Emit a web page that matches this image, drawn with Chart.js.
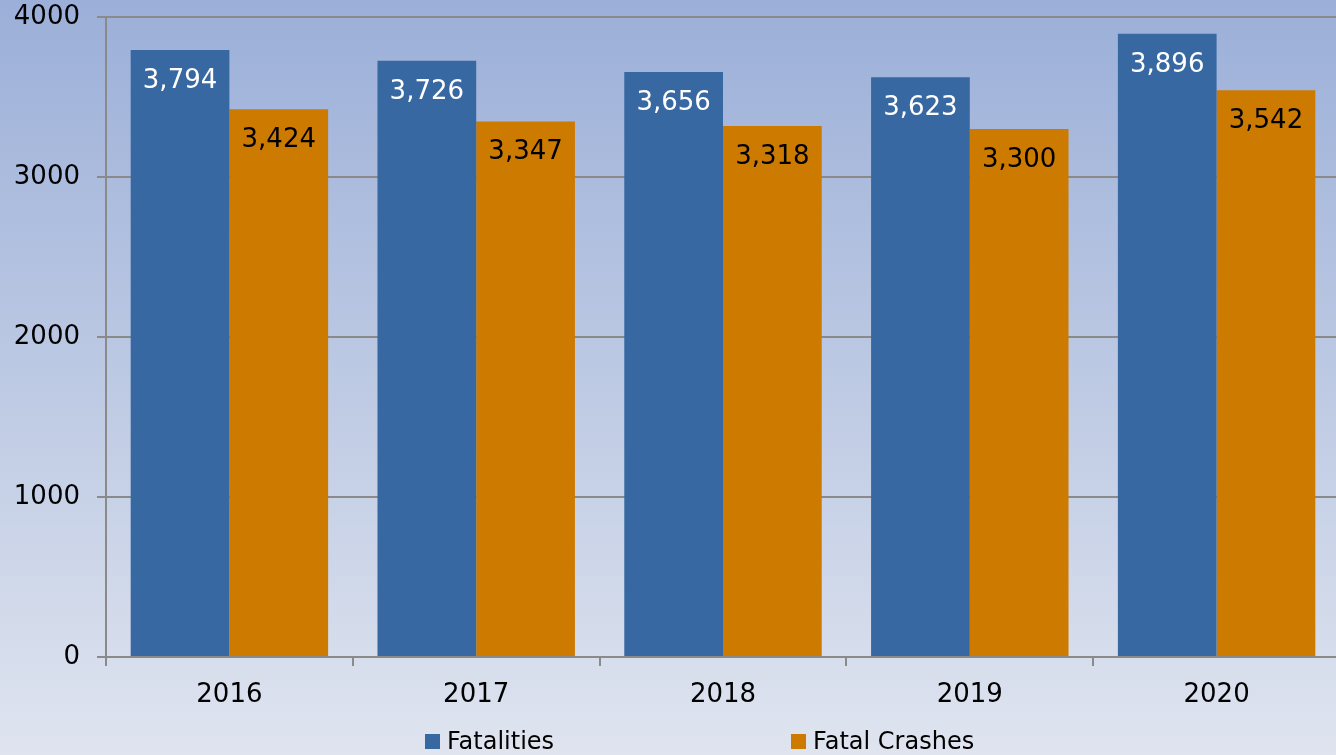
<!DOCTYPE html>
<html>
<head>
<meta charset="utf-8">
<script src="https://cdn.jsdelivr.net/npm/chart.js@4.4.1/dist/chart.umd.min.js"></script>
<style>
  html, body { margin: 0; padding: 0; overflow: hidden; }
  #wrap { position: relative; width: 1341px; height: 755px; }
  #legend {
    position: absolute; left: 425px; top: 727px;
    display: flex; gap: 237px;
    font: 24px/28px "DejaVu Sans", sans-serif; color: #000;
  }
  .item { display: flex; align-items: center; }
  .box { width: 15px; height: 15px; margin-right: 7px; }
</style>
</head>
<body>
<div id="wrap">
  <canvas id="chart"></canvas>
  <div id="legend"></div>
</div>
<script>
// Data
const years = ['2016', '2017', '2018', '2019', '2020'];
const fatalities = [3794, 3726, 3656, 3623, 3896];
const fatalCrashes = [3424, 3347, 3318, 3300, 3542];
const seriesNames = ['Fatalities', 'Fatal Crashes'];
const seriesColors = ['#3868a2', '#cc7a00'];
const labelColors = ['#ffffff', '#000000'];
const yTicks = [0, 1000, 2000, 3000, 4000];

const gridColor = '#8a8a8a';
const font = '"DejaVu Sans", sans-serif';

// gradient background behind everything
const background = {
    id: 'background',
    beforeDraw(chart) {
        const ctx = chart.ctx;
        const g = ctx.createLinearGradient(0, 0, 0, chart.height);
        g.addColorStop(0, '#9bafd8');
        g.addColorStop(1, '#dfe4ef');
        ctx.save();
        ctx.fillStyle = g;
        ctx.fillRect(0, 0, chart.width, chart.height);
        ctx.restore();
    }
};

// value labels inside the top of each bar
const barLabels = {
    id: 'barLabels',
    afterDatasetsDraw(chart) {
        const ctx = chart.ctx;
        ctx.save();
        ctx.font = '26px ' + font;
        ctx.textAlign = 'center';
        ctx.textBaseline = 'alphabetic';
        chart.data.datasets.forEach((ds, i) => {
            ctx.fillStyle = labelColors[i];
            chart.getDatasetMeta(i).data.forEach((bar, j) => {
                ctx.fillText(ds.data[j].toLocaleString('en-US'), bar.x, bar.y + 38);
            });
        });
        ctx.restore();
    }
};

const chart = new Chart(document.getElementById('chart'), {
    type: 'bar',
    data: {
        labels: years,
        datasets: [
            { label: seriesNames[0], data: fatalities, backgroundColor: seriesColors[0] },
            { label: seriesNames[1], data: fatalCrashes, backgroundColor: seriesColors[1] }
        ]
    },
    options: {
        responsive: true,
        maintainAspectRatio: false,
        animation: false,
        categoryPercentage: 0.8,
        barPercentage: 1.0,
        layout: { padding: { top: 17, right: 1, left: 0, bottom: 0 } },
        plugins: {
            legend: { display: false },
            tooltip: { enabled: false }
        },
        scales: {
            x: {
                grid: { drawOnChartArea: false, drawTicks: true, tickLength: 9, color: gridColor, lineWidth: 2 },
                border: { color: gridColor, width: 2 },
                ticks: { color: '#000', font: { family: font, size: 26 }, padding: 14 },
                afterFit(scale) { scale.height = 98; }
            },
            y: {
                min: 0,
                max: 4000,
                afterBuildTicks(scale) { scale.ticks = yTicks.map(v => ({ value: v })); },
                grid: { color: gridColor, lineWidth: 2, tickLength: 9 },
                border: { color: gridColor, width: 2 },
                ticks: { color: '#000', font: { family: font, size: 26 }, padding: 17, callback: v => String(v) },
                afterFit(scale) {
                    scale.width = 106;
                    scale.paddingTop = 0;
                    scale.paddingBottom = 0;
                }
            }
        }
    },
    plugins: [background, barLabels]
});

// legend below the axis
const legend = document.getElementById('legend');
chart.data.datasets.forEach(ds => {
    const item = document.createElement('div');
    item.className = 'item';
    item.innerHTML = '<span class="box" style="background:' + ds.backgroundColor + '"></span>' + ds.label;
    legend.appendChild(item);
});
</script>
</body>
</html>
